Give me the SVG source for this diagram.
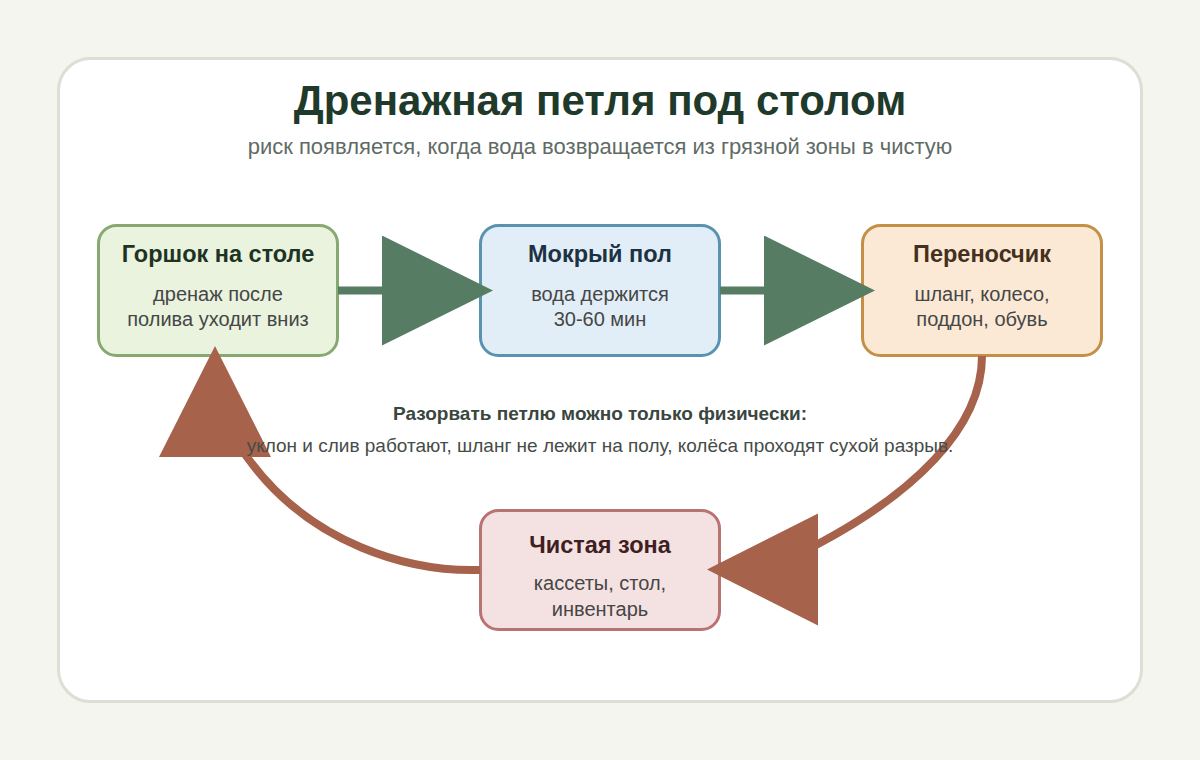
<svg xmlns="http://www.w3.org/2000/svg" width="1200" height="760" viewBox="0 0 1200 760">
  <style>
    .node rect { stroke-width: 3; }
    .ntitle { font-family: "Liberation Sans", Arial, sans-serif; font-weight: bold; font-size: 23.5px; text-anchor: middle; }
    .nsub { font-family: "Liberation Sans", Arial, sans-serif; font-size: 20px; fill: #464646; text-anchor: middle; }
    .green { fill: none; stroke: #567d63; stroke-width: 8; }
    .red { fill: none; stroke: #a6624a; stroke-width: 8; }
  </style>
  <defs>
    <marker id="arrG" markerUnits="userSpaceOnUse" markerWidth="112" markerHeight="112" refX="51" refY="55" orient="auto">
      <path d="M0,0 L111,55 L0,110 Z" fill="#567d63"/>
    </marker>
    <marker id="arrR" markerUnits="userSpaceOnUse" markerWidth="112" markerHeight="114" refX="51" refY="56" orient="auto">
      <path d="M0,0 L111,56 L0,112 Z" fill="#a6624a"/>
    </marker>
  </defs>
  <rect x="0" y="0" width="1200" height="760" fill="#f5f5f0"/>
  <rect x="58.5" y="58.5" width="1083" height="643" rx="32" fill="#ffffff" stroke="#dcdfd3" stroke-width="3"/>

  <text x="600" y="115" text-anchor="middle" font-family="Liberation Sans, Arial, sans-serif" font-weight="bold" font-size="42" fill="#1f3a2a">Дренажная петля под столом</text>
  <text x="600" y="154" text-anchor="middle" font-family="Liberation Sans, Arial, sans-serif" font-size="22" fill="#5f6b65">риск появляется, когда вода возвращается из грязной зоны в чистую</text>

  <g id="node-pot" class="node">
    <rect x="98.5" y="225.5" width="239" height="130" rx="18" fill="#e9f3de" stroke="#88a872"/>
    <text class="ntitle" x="218" y="262" fill="#1f3324">Горшок на столе</text>
    <text class="nsub" x="218" y="301">дренаж после</text>
    <text class="nsub" x="218" y="326">полива уходит вниз</text>
  </g>
  <g id="node-floor" class="node">
    <rect x="480.5" y="225.5" width="239" height="130" rx="18" fill="#e2eef7" stroke="#5a92b0"/>
    <text class="ntitle" x="600" y="262" fill="#1c3243">Мокрый пол</text>
    <text class="nsub" x="600" y="301">вода держится</text>
    <text class="nsub" x="600" y="326">30-60 мин</text>
  </g>
  <g id="node-carrier" class="node">
    <rect x="862.5" y="225.5" width="239" height="130" rx="18" fill="#fbe9d6" stroke="#c48f47"/>
    <text class="ntitle" x="982" y="262" fill="#45301d">Переносчик</text>
    <text class="nsub" x="982" y="301">шланг, колесо,</text>
    <text class="nsub" x="982" y="326">поддон, обувь</text>
  </g>
  <g id="node-clean" class="node">
    <rect x="480.5" y="510.5" width="239" height="119" rx="18" fill="#f4e1e1" stroke="#b87373"/>
    <text class="ntitle" x="600" y="553" fill="#3f1f22">Чистая зона</text>
    <text class="nsub" x="600" y="590">кассеты, стол,</text>
    <text class="nsub" x="600" y="616">инвентарь</text>
  </g>

  <g id="connectors">
    <path class="green" d="M338 290.5 L433 290.5" marker-end="url(#arrG)"/>
    <path class="green" d="M720 290.5 L815 290.5" marker-end="url(#arrG)"/>
    <path class="red" d="M982 356 C982 430 910 495 818 544 C795 556 785 569.5 767 569.5" marker-end="url(#arrR)"/>
    <path class="red" d="M480 570 C410 572 310 545 247 457 C232 436 215 425 215 406" marker-end="url(#arrR)"/>
  </g>

  <g id="note">
    <text x="600" y="420" text-anchor="middle" font-family="Liberation Sans, Arial, sans-serif" font-weight="bold" font-size="19" fill="#3a4640">Разорвать петлю можно только физически:</text>
    <text x="600" y="452" text-anchor="middle" font-family="Liberation Sans, Arial, sans-serif" font-size="19" fill="#464c48">уклон и слив работают, шланг не лежит на полу, колёса проходят сухой разрыв.</text>
  </g>
</svg>
